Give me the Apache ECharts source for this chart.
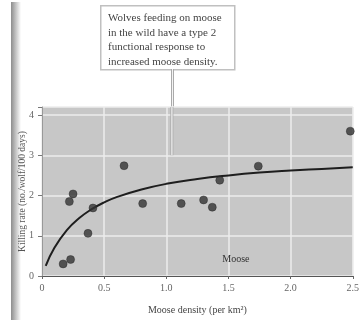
<!DOCTYPE html>
<html>
<head>
<meta charset="utf-8">
<style>
  html, body { margin: 0; padding: 0; background: #fff; }
  #main { width: 362px; height: 320px; }
</style>
<script src="https://cdn.jsdelivr.net/npm/echarts@6/dist/echarts.min.js"></script>
</head>
<body>
<div id="main"></div>
<script>
// moose density (per km2) vs killing rate (no./wolf/100 days)
var moosePts = [
  [0.17, 0.30], [0.23, 0.41], [0.22, 1.85], [0.25, 2.04], [0.37, 1.06],
  [0.41, 1.69], [0.66, 2.74], [0.81, 1.80], [1.12, 1.80], [1.30, 1.89],
  [1.37, 1.71], [1.43, 2.38], [1.74, 2.73], [2.48, 3.60]
];
// fitted type 2 curve
var curveX = [0.03, 0.1, 0.2, 0.3, 0.4, 0.5, 0.6, 0.8, 1.0, 1.25, 1.5, 1.75, 2.0, 2.25, 2.5];
var curveY = [0.25, 0.70, 1.14, 1.44, 1.66, 1.83, 1.96, 2.15, 2.29, 2.41, 2.50, 2.57, 2.62, 2.66, 2.70];
var xTicks = ['0', '0.5', '1.0', '1.5', '2.0', '2.5'];
var yTicks = ['0', '1', '2', '3', '4'];
var noteLines = ['Wolves feeding on moose', 'in the wild have a type 2', 'functional response to', 'increased moose density.'];
var calloutAt = [1.045, 3.0];

var serif = '"Liberation Serif", "DejaVu Serif", serif';
var curve = [];
for (var i = 0; i < curveX.length; i++) curve.push([curveX[i], curveY[i]]);

var chart = echarts.init(document.getElementById('main'));
var option = {
  animation: false,
  backgroundColor: '#fff',
  grid: {
    left: 42, right: 7, top: 107, bottom: 41,
    show: true, backgroundColor: '#c7c7c7', borderWidth: 0
  },
  xAxis: {
    type: 'value', min: 0, max: 2.5, interval: 0.5,
    name: 'Moose density (per km²)',
    nameLocation: 'middle', nameGap: 29, nameMoveOverlap: false,
    nameTextStyle: { fontFamily: serif, fontSize: 10, color: '#444' },
    axisLine: { show: true, lineStyle: { color: '#555', width: 1 } },
    axisTick: { show: true, length: 3, lineStyle: { color: '#666' } },
    axisLabel: {
      fontFamily: serif, fontSize: 10, color: '#666', margin: 7,
      formatter: function (v) { return xTicks[Math.round(v / 0.5)] || ''; }
    },
    splitLine: { show: true, lineStyle: { color: '#ececec', width: 1.5 } }
  },
  yAxis: {
    type: 'value', min: 0, max: 4.2, interval: 1,
    name: 'Killing rate (no./wolf/100 days)',
    nameLocation: 'middle', nameGap: 15, nameRotate: 90, nameMoveOverlap: false,
    nameTextStyle: { fontFamily: serif, fontSize: 9.5, color: '#555' },
    axisLine: { show: true, lineStyle: { color: '#999', width: 1 } },
    axisTick: { show: true, length: 4, lineStyle: { color: '#777' } },
    axisLabel: {
      fontFamily: serif, fontSize: 10, color: '#666', margin: 8,
      formatter: function (v) { return Number.isInteger(v) ? yTicks[v] : ''; }
    },
    splitLine: { show: true, lineStyle: { color: '#ececec', width: 1.5 } }
  },
  series: [
    {
      type: 'line', data: curve, smooth: true, symbol: 'none',
      lineStyle: { color: '#1e1e1e', width: 2 }, z: 3
    },
    {
      type: 'scatter', data: moosePts, symbolSize: 8,
      itemStyle: { color: '#333', borderColor: '#222', borderWidth: 0.5 }, z: 4
    },
    {
      // callout connector inside the plot
      type: 'line', data: [[calloutAt[0], calloutAt[1]], [calloutAt[0], 4.2]],
      symbol: 'none', silent: true,
      lineStyle: { color: '#aaa', width: 3 }, z: 2
    },
    {
      type: 'line', data: [[calloutAt[0], calloutAt[1]], [calloutAt[0], 4.2]],
      symbol: 'none', silent: true,
      lineStyle: { color: '#f4f4f4', width: 1.2 }, z: 2,
      markPoint: {
        symbol: 'rect', symbolSize: 0,
        data: [{ coord: [1.56, 0.41], value: 'Moose' }],
        label: { show: true, formatter: 'Moose', fontFamily: serif, fontSize: 10, color: '#333' }
      }
    }
  ],
  graphic: [
    {
      type: 'rect', left: 11, top: 2, z: -1,
      shape: { width: 10, height: 318 },
      style: {
        fill: new echarts.graphic.LinearGradient(0, 0, 1, 0, [
          { offset: 0, color: '#8d8d8d' }, { offset: 1, color: '#ffffff' }
        ])
      }
    },
    {
      type: 'rect', left: 100, top: 5,
      shape: { width: 134, height: 64 },
      style: { fill: '#fff', stroke: '#c0c0c0', lineWidth: 1.5 }
    },
    {
      type: 'text', left: 108, top: 11,
      style: {
        text: noteLines.join('\n'), font: '11px ' + serif,
        fill: '#444', lineHeight: 14.5
      }
    },
    {
      type: 'group', left: 171, top: 69,
      children: [
        { type: 'rect', shape: { x: 0, y: 0, width: 3, height: 38 }, style: { fill: '#aaa' } },
        { type: 'rect', shape: { x: 1, y: 0, width: 1, height: 38 }, style: { fill: '#f4f4f4' } }
      ]
    }
  ]
};
chart.setOption(option);
</script>
</body>
</html>
